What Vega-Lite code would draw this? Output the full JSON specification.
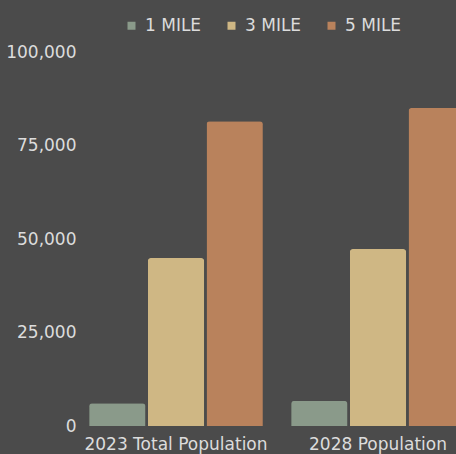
{
  "$schema": "https://vega.github.io/schema/vega-lite/v6.json",
  "width": 404,
  "height": 374,
  "autosize": {"type": "none"},
  "padding": {"left": 75, "top": 52, "right": 0, "bottom": 28},
  "background": "#4b4b4b",
  "config": {
    "view": {"stroke": null},
    "font": "DejaVu Sans",
    "axis": {"labelColor": "#dcdcdc", "labelFont": "DejaVu Sans", "labelFontSize": 17, "grid": false, "domain": false, "ticks": false},
    "legend": {"labelColor": "#dcdcdc", "labelFont": "DejaVu Sans", "labelFontSize": 17}
  },
  "data": {
    "values": [
      {"category": "2023 Total Population", "radius": "1 MILE", "population": 6100},
      {"category": "2023 Total Population", "radius": "3 MILE", "population": 44900},
      {"category": "2023 Total Population", "radius": "5 MILE", "population": 81500},
      {"category": "2028 Population", "radius": "1 MILE", "population": 6700},
      {"category": "2028 Population", "radius": "3 MILE", "population": 47300},
      {"category": "2028 Population", "radius": "5 MILE", "population": 85000}
    ]
  },
  "mark": {"type": "bar", "cornerRadiusTopLeft": 3, "cornerRadiusTopRight": 3},
  "encoding": {
    "x": {
      "field": "category", "type": "nominal", "title": null,
      "sort": ["2023 Total Population", "2028 Population"],
      "scale": {"paddingInner": 0.14, "paddingOuter": 0.07},
      "axis": {"labelAngle": 0, "labelPadding": 10, "labelLimit": 0}
    },
    "xOffset": {
      "field": "radius", "type": "nominal",
      "scale": {"paddingInner": 0.04}
    },
    "y": {
      "field": "population", "type": "quantitative", "title": null,
      "scale": {"domain": [0, 100000], "nice": false},
      "axis": {"values": [0, 25000, 50000, 75000, 100000], "format": ",d", "labelPadding": -1}
    },
    "color": {
      "field": "radius", "type": "nominal",
      "scale": {"domain": ["1 MILE", "3 MILE", "5 MILE"], "range": ["#8a9a8a", "#cfb784", "#b9825c"]},
      "legend": {
        "title": null, "orient": "none", "direction": "horizontal",
        "legendX": 48, "legendY": -35,
        "symbolType": "square", "symbolSize": 64, "symbolStrokeWidth": 0,
        "labelOffset": 5, "columnPadding": 21
      }
    }
  }
}
